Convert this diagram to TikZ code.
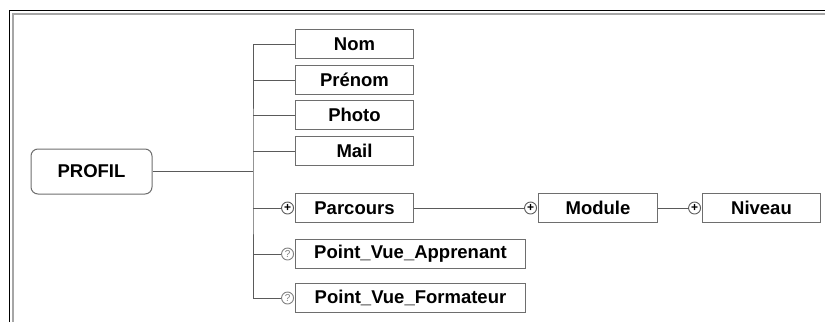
\documentclass[tikz,border=0pt]{standalone}
\usepackage{fontspec}
\setmainfont{Liberation Sans}
\usepackage{xcolor}
\usetikzlibrary{positioning}
\definecolor{boxgray}{HTML}{6E6E6E}
\definecolor{linegray}{HTML}{5A5A5A}
\tikzstyle{rootbox}  = [rectangle, rounded corners=7pt, minimum width=121pt, minimum height=45pt,
                        draw=boxgray, line width=1pt, fill=white, font=\fontsize{18.5}{20}\selectfont\bfseries]
\tikzstyle{fieldbox} = [rectangle, minimum width=118pt, minimum height=29pt, inner xsep=4pt,
                        draw=boxgray, line width=1pt, fill=white, font=\fontsize{18.5}{20}\selectfont\bfseries]
\tikzstyle{widebox}  = [fieldbox, minimum width=230pt]
\tikzstyle{plusmark} = [circle, draw=linegray, line width=0.9pt, minimum size=12pt, inner sep=0pt,
                        fill=white, font=\fontsize{12}{12}\selectfont\bfseries]
\tikzstyle{askmark}  = [plusmark, draw=gray, text=gray, font=\fontsize{10}{10}\selectfont]
\tikzstyle{link}     = [draw=linegray, line width=1pt]
\begin{document}
\begin{tikzpicture}[x=1pt, y=-1pt]
  \useasboundingbox (0,0) rectangle (825,322);
  \draw [black, line width=1pt] (9.5,322) -- (9.5,10.5) -- (825,10.5);
  \draw [gray!70, line width=2pt] (12.5,322) -- (12.5,14) -- (825,14);

  \node (profil) [rootbox] at (91.5,171.5) {PROFIL};
  \node (nom) [fieldbox, anchor=north west] at (295,29) {Nom};
  \node (prenom) [fieldbox, below=6pt of nom] {Prénom};
  \node (photo) [fieldbox, below=5pt of prenom] {Photo};
  \node (mail) [fieldbox, below=6pt of photo] {Mail};
  \node (parcours) [fieldbox, below=27pt of mail] {Parcours};
  \node (apprenant) [widebox, below=16pt of parcours.south west, anchor=north west] {Point\_Vue\_Apprenant};
  \node (formateur) [widebox, below=14pt of apprenant] {Point\_Vue\_Formateur};
  \node (module) [fieldbox, minimum width=119pt, right=124pt of parcours] {Module};
  \node (niveau) [fieldbox, right=44pt of module] {Niveau};

  \node (parcoursmark) [plusmark, left=1pt of parcours.west] {+};
  \node (modulemark) [plusmark, left=1pt of module.west] {+};
  \node (niveaumark) [plusmark, left=1pt of niveau.west] {+};
  \node (apprenantmark) [askmark, left=1pt of apprenant.west] {?};
  \node (formateurmark) [askmark, left=1pt of formateur.west] {?};

  \coordinate (fork) at (253,171.5);
  \draw [link] (profil.east) -- (fork);
  \draw [link] (nom.west) -| (fork) |- (formateurmark.west);
  \foreach \leaf in {prenom, photo, mail, parcoursmark, apprenantmark}
    \draw [link] (fork |- \leaf.west) -- (\leaf.west);
  \draw [link] (parcours.east) -- (modulemark.west);
  \draw [link] (module.east) -- (niveaumark.west);
\end{tikzpicture}
\end{document}
